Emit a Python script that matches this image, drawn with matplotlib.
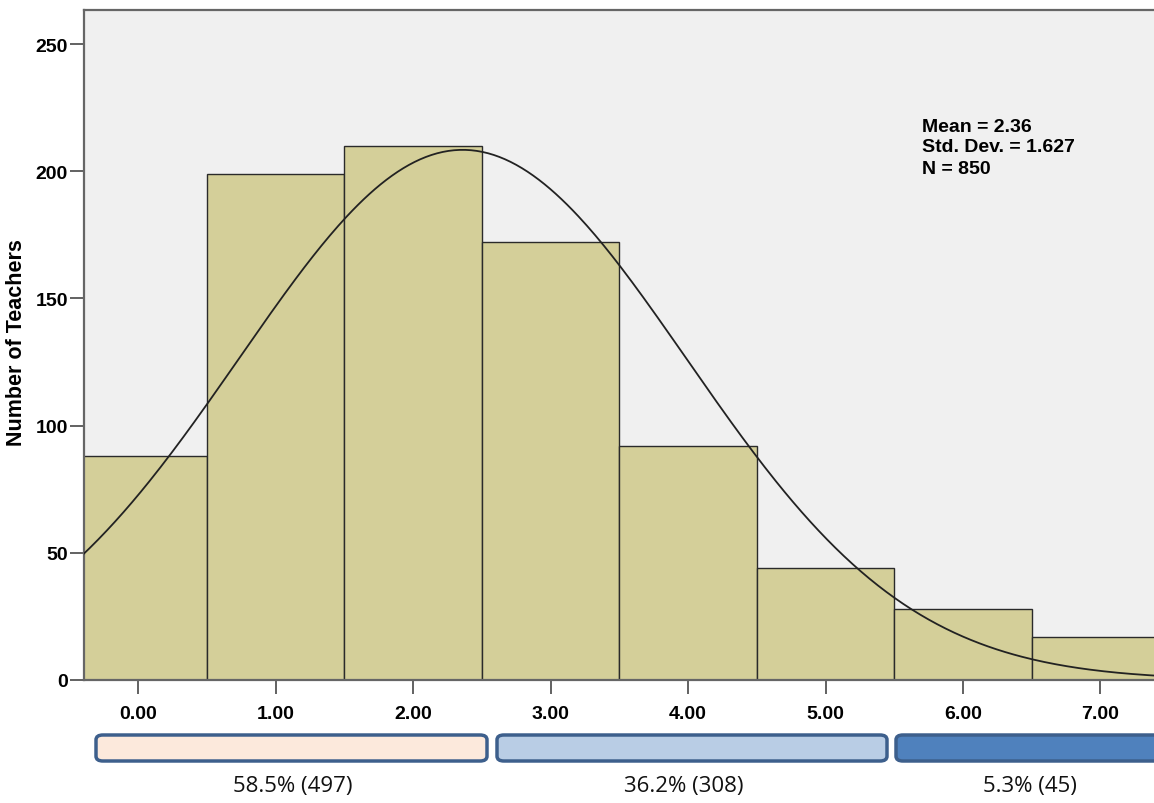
import numpy as np
import matplotlib
matplotlib.use("Agg")
import matplotlib.pyplot as plt
from matplotlib.patches import FancyBboxPatch

# Data
scores = [0, 1, 2, 3, 4, 5, 6, 7]
counts = [88, 199, 210, 172, 92, 44, 28, 17]
tick_labels = ["0.00", "1.00", "2.00", "3.00", "4.00", "5.00", "6.00", "7.00"]
mean_val = 2.36
std_val = 1.627
n_val = 850
group_labels = ["58.5% (497)", "36.2% (308)", "5.3% (45)"]
group_fills = ["#FCE9DC", "#B9CDE5", "#4F81BD"]

W, H = 1154, 804
fig = plt.figure(figsize=(W / 100, H / 100), dpi=100)
fig.patch.set_facecolor("white")

ax_l, ax_t, ax_b = 84, 11, 681
ax = fig.add_axes([ax_l / W, 1 - ax_b / H, 1 - ax_l / W, (ax_b - ax_t) / H])
ax.set_facecolor("#F0F0F0")

ax.bar(scores, counts, width=1.0, color="#D4CF99", edgecolor="#2a2a2a", linewidth=1.0, zorder=2)

xs = np.linspace(-0.6, 7.6, 400)
pdf = n_val * 1.0 / (std_val * np.sqrt(2 * np.pi)) * np.exp(-0.5 * ((xs - mean_val) / std_val) ** 2)
ax.plot(xs, pdf, color="#222222", lw=1.3, zorder=3)

ax.set_xlim(-0.395, 7.39)
ax.set_ylim(0, 263.4)

ax.set_yticks([0, 50, 100, 150, 200, 250])
ax.set_xticks(scores)
ax.set_xticklabels(tick_labels)
for lbl in ax.get_xticklabels() + ax.get_yticklabels():
    lbl.set_fontfamily("Liberation Sans")
    lbl.set_fontweight("bold")
    lbl.set_fontsize(14)
ax.tick_params(axis="y", direction="out", length=10, width=1.3, color="#555555", pad=1.5)
ax.tick_params(axis="x", direction="out", length=10, width=1.3, color="#555555", pad=8)

for side in ["left", "top", "bottom"]:
    ax.spines[side].set_color("#666666")
    ax.spines[side].set_linewidth(1.6)
ax.spines["right"].set_visible(False)

ax.set_ylabel("Number of Teachers", fontfamily="Liberation Sans", fontweight="bold", fontsize=15.5)
ax.yaxis.set_label_coords((27 - ax_l) / (W - ax_l), 0.505)

stats_lines = [f"Mean = {mean_val:.2f}", f"Std. Dev. = {std_val}", f"N = {n_val}"]
for i, s in enumerate(stats_lines):
    fig.text(922 / W, 1 - (127 + 21 * i) / H, s, ha="left", va="center",
             fontfamily="Liberation Sans", fontweight="bold", fontsize=14)

# Group boxes below the axis (pixel extents)
box_x = [(96, 487), (497, 887), (896, W + 20)]
label_cx = [293, 684, 1030]
box_top, box_bot = 736, 762
for (x0, x1), fill, lab, cx in zip(box_x, group_fills, group_labels, label_cx):
    box = FancyBboxPatch((x0 / W, 1 - box_bot / H), (x1 - x0) / W, (box_bot - box_top) / H,
                         boxstyle="round,pad=0,rounding_size=0.006", transform=fig.transFigure,
                         facecolor=fill, edgecolor="#3D5F8C", linewidth=2.5, clip_on=False)
    fig.patches.append(box)
    fig.text(cx / W, 1 - 787 / H, lab, ha="center", va="center", fontsize=16,
             fontfamily="Open Sans", color="#111111")

fig.savefig("out.png", dpi=100)
